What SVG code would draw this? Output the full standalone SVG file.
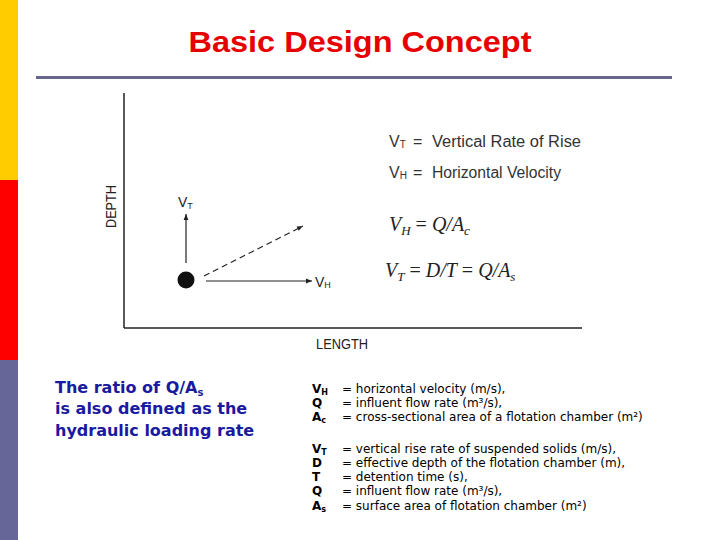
<svg xmlns="http://www.w3.org/2000/svg" width="720" height="540" viewBox="0 0 720 540">
<defs>
<style>
.title{font-family:"Liberation Sans",Arial,sans-serif;font-weight:bold;font-size:30px;fill:#e60000}
.axis{stroke:#222;stroke-width:1.5;fill:none}
.arr{stroke:#222;stroke-width:1.2;fill:none}
.lbl{font-family:"Liberation Sans",Arial,sans-serif;font-size:14px;fill:#222}
.def{font-family:"Liberation Sans",Arial,sans-serif;font-size:16px;fill:#333}
.math{font-family:"Liberation Serif","Times New Roman",serif;font-style:italic;font-size:20px;fill:#222}
.leg{font-family:"DejaVu Sans",Verdana,sans-serif;font-size:12px;fill:#000}
.legb{font-family:"DejaVu Sans",Verdana,sans-serif;font-size:12px;font-weight:bold;fill:#000}
.note{font-family:"DejaVu Sans",Verdana,sans-serif;font-size:16px;font-weight:bold;fill:#1a1aa0}
</style>
<marker id="ah" viewBox="0 0 10 10" refX="10" refY="5" markerWidth="8" markerHeight="6" orient="auto" markerUnits="userSpaceOnUse">
<path d="M0,1 L10,5 L0,9 z" fill="#222"/>
</marker>
</defs>
<rect width="720" height="540" fill="#fff"/>
<g id="sidebar">
<rect x="0" y="0" width="18" height="180" fill="#ffcc00"/>
<rect x="0" y="180" width="18" height="180" fill="#ff0000"/>
<rect x="0" y="360" width="18" height="180" fill="#666699"/>
</g>
<g id="title">
<text class="title" x="360" y="52" text-anchor="middle" textLength="343" lengthAdjust="spacingAndGlyphs">Basic Design Concept</text>
<rect x="36" y="76" width="636" height="3" fill="#666690"/>
</g>
<g id="axes">
<line class="axis" x1="124" y1="93" x2="124" y2="328"/>
<line class="axis" x1="124" y1="328" x2="582" y2="328"/>
<text class="lbl" x="316" y="349" font-size="15" textLength="52" lengthAdjust="spacingAndGlyphs">LENGTH</text>
<text class="lbl" transform="translate(116,228) rotate(-90)" x="0" y="0" font-size="15" textLength="43" lengthAdjust="spacingAndGlyphs">DEPTH</text>
</g>
<g id="particle">
<circle cx="186" cy="280" r="8.5" fill="#111"/>
</g>
<g id="connectors">
<line class="arr" x1="186" y1="263" x2="186" y2="214" marker-end="url(#ah)"/>
<line class="arr" x1="204" y1="276" x2="303" y2="226" stroke-dasharray="6,4" marker-end="url(#ah)"/>
<line class="arr" x1="206" y1="281" x2="312" y2="281" marker-end="url(#ah)"/>
</g>
<g id="vt-label"><text class="lbl" x="178" y="207">V<tspan font-size="9" dy="2">T</tspan></text></g>
<g id="vh-label"><text class="lbl" x="315" y="287">V<tspan font-size="9" dy="1">H</tspan></text></g>
<g id="definitions">
<text class="def" x="389" y="147">V<tspan font-size="10" dy="1">T</tspan><tspan dy="-1" x="413">=</tspan><tspan x="432" textLength="149" lengthAdjust="spacingAndGlyphs">Vertical  Rate  of  Rise</tspan></text>
<text class="def" x="389" y="178">V<tspan font-size="10" dy="1">H</tspan><tspan dy="-1" x="413">=</tspan><tspan x="432" textLength="129" lengthAdjust="spacingAndGlyphs">Horizontal  Velocity</tspan></text>
</g>
<g id="formulas">
<text class="math" x="389" y="231">V<tspan font-size="13" dy="4">H</tspan><tspan dy="-4" font-style="normal"> = </tspan>Q/A<tspan font-size="13" dy="4">c</tspan></text>
<text class="math" x="385" y="277">V<tspan font-size="13" dy="4">T</tspan><tspan dy="-4" font-style="normal"> = </tspan>D/T<tspan font-style="normal"> = </tspan>Q/A<tspan font-size="13" dy="4">s</tspan></text>
</g>
<g id="note">
<text class="note" x="55" y="393">The ratio of Q/A<tspan font-size="10" dy="3">s</tspan></text>
<text class="note" x="55" y="414">is also defined as the</text>
<text class="note" x="55" y="436">hydraulic loading rate</text>
</g>
<g id="legend">
<text class="legb" x="312" y="393">V<tspan font-size="8" dy="2">H</tspan></text>
<text class="legb" x="312" y="407">Q</text>
<text class="legb" x="312" y="421">A<tspan font-size="8" dy="2">c</tspan></text>
<text class="leg" x="342" y="393">= horizontal velocity (m/s),</text>
<text class="leg" x="342" y="407">= influent flow rate (m³/s),</text>
<text class="leg" x="342" y="421">= cross-sectional area of a flotation chamber (m²)</text>
<text class="legb" x="312" y="453">V<tspan font-size="8" dy="2">T</tspan></text>
<text class="legb" x="312" y="467">D</text>
<text class="legb" x="312" y="481">T</text>
<text class="legb" x="312" y="495">Q</text>
<text class="legb" x="312" y="510">A<tspan font-size="8" dy="2">s</tspan></text>
<text class="leg" x="342" y="453">= vertical rise rate of suspended solids (m/s),</text>
<text class="leg" x="342" y="467">= effective depth of the flotation chamber (m),</text>
<text class="leg" x="342" y="481">= detention time (s),</text>
<text class="leg" x="342" y="495">= influent flow rate (m³/s),</text>
<text class="leg" x="342" y="510">= surface area of flotation chamber (m²)</text>
</g>
</svg>
